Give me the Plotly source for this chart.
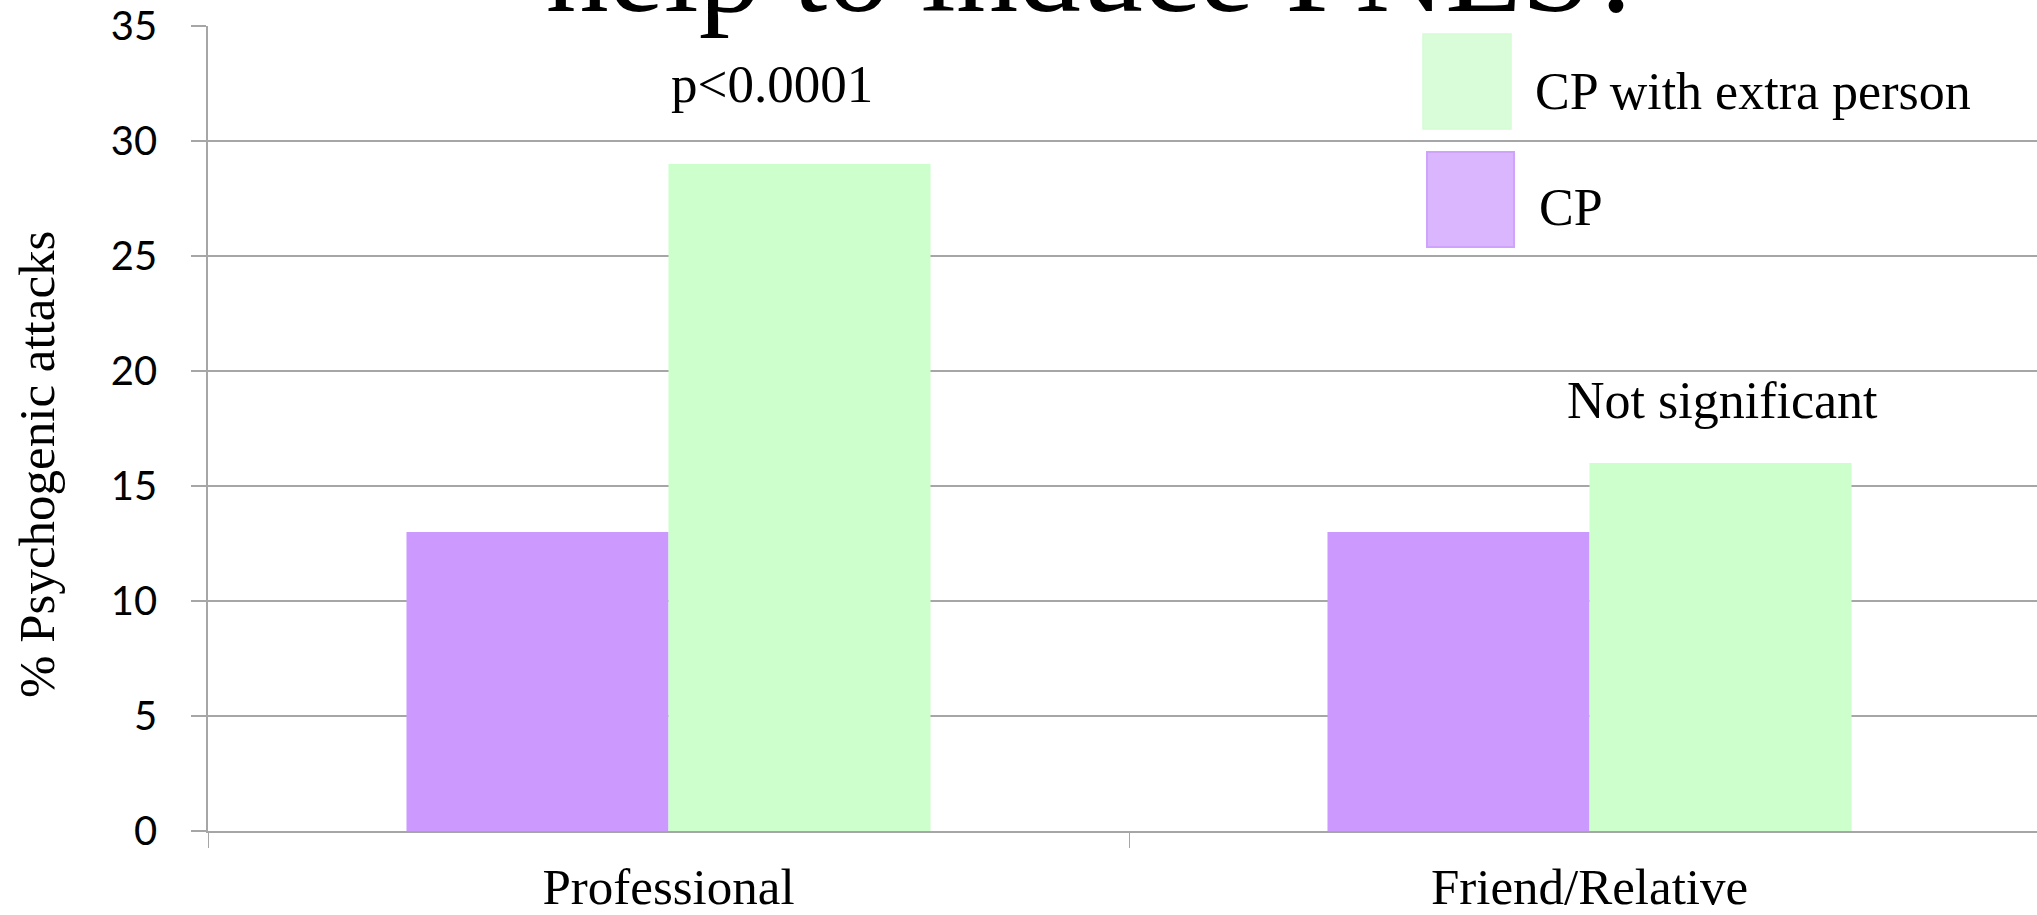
import plotly.graph_objects as go

# Data
categories = ["Professional", "Friend/Relative"]
cp_values = [13, 13]
cp_extra_values = [29, 16]
series_names = ["CP", "CP with extra person"]
y_ticks = [0, 5, 10, 15, 20, 25, 30, 35]

PURPLE = "#CC99FF"
GREEN = "#CCFFCC"
GRID = "#a6a6a6"
SERIF = "Liberation Serif, Times New Roman, serif"
SANS = "Lato, Open Sans, sans-serif"

W, H = 2037, 915
L, R, T, B = 208, 0, 26, 84
PW, PH = W - L - R, H - T - B


def px(x):
    return (x - L) / PW


def py(y):
    return (H - B - y) / PH


fig = go.Figure()
fig.add_trace(go.Bar(x=categories, y=cp_values, name=series_names[0],
                     marker=dict(color=PURPLE, line=dict(width=0))))
fig.add_trace(go.Bar(x=categories, y=cp_extra_values, name=series_names[1],
                     marker=dict(color=GREEN, line=dict(width=0))))

# Legend swatches and labels
fig.add_shape(type="rect", xref="paper", yref="paper",
              x0=px(1423), x1=px(1511), y0=py(129), y1=py(34),
              fillcolor="#d9fdd9", line=dict(color="#d3fcd3", width=1.5))
fig.add_shape(type="rect", xref="paper", yref="paper",
              x0=px(1427), x1=px(1514), y0=py(247), y1=py(152),
              fillcolor="#dab6fe", line=dict(color="#cfa2fb", width=2))
fig.add_annotation(xref="paper", yref="paper", x=px(1533), y=py(91),
                   xanchor="left", yanchor="middle", showarrow=False,
                   text=series_names[1], font=dict(family=SERIF, size=52, color="black"))
fig.add_annotation(xref="paper", yref="paper", x=px(1537), y=py(207),
                   xanchor="left", yanchor="middle", showarrow=False,
                   text=series_names[0], font=dict(family=SERIF, size=52, color="black"))

# Significance notes
fig.add_annotation(xref="x", yref="y", x=0.112, y=32.5, showarrow=False,
                   xanchor="center", yanchor="middle",
                   text="p<0.0001", font=dict(family=SERIF, size=53, color="black"))
fig.add_annotation(xref="x", yref="y", x=1.144, y=18.7, showarrow=False,
                   xanchor="center", yanchor="middle",
                   text="Not significant", font=dict(family=SERIF, size=52, color="black"))

# Slide heading partly above the chart
fig.add_annotation(xref="paper", yref="paper", x=px(1096), y=1,
                   xanchor="center", yanchor="bottom",
                   yshift=-14, showarrow=False, text="help to induce PNES?",
                   font=dict(family=SERIF, size=125, color="black"))

# Y axis title
fig.add_annotation(xref="paper", yref="paper", x=px(37), y=py(465), textangle=-90,
                   xanchor="center", yanchor="middle",
                   showarrow=False, text="% Psychogenic attacks",
                   font=dict(family=SERIF, size=51, color="black"))

fig.update_layout(
    width=W, height=H,
    margin=dict(l=L, r=R, t=T, b=B, pad=0),
    paper_bgcolor="white", plot_bgcolor="white",
    barmode="group", bargap=0.431, bargroupgap=0,
    showlegend=False,
    xaxis=dict(
        type="category", range=[-0.5, -0.5 + PW / 921], automargin=False,
        showline=True, linecolor=GRID, linewidth=1.5,
        ticks="outside", tickson="boundaries", ticklen=15, tickcolor=GRID, tickwidth=1,
        showgrid=False, ticklabelstandoff=10,
        tickfont=dict(family=SERIF, size=51, color="black"),
    ),
    yaxis=dict(
        range=[0, 35], tickvals=y_ticks, automargin=False,
        showline=True, linecolor=GRID, linewidth=1.5,
        showgrid=True, gridcolor=GRID, gridwidth=1.5,
        ticks="outside", ticklen=15, tickcolor=GRID, tickwidth=1.5,
        ticklabelstandoff=26, zeroline=False,
        tickfont=dict(family=SANS, size=40, color="black"),
    ),
)

fig.write_html("out.html")
